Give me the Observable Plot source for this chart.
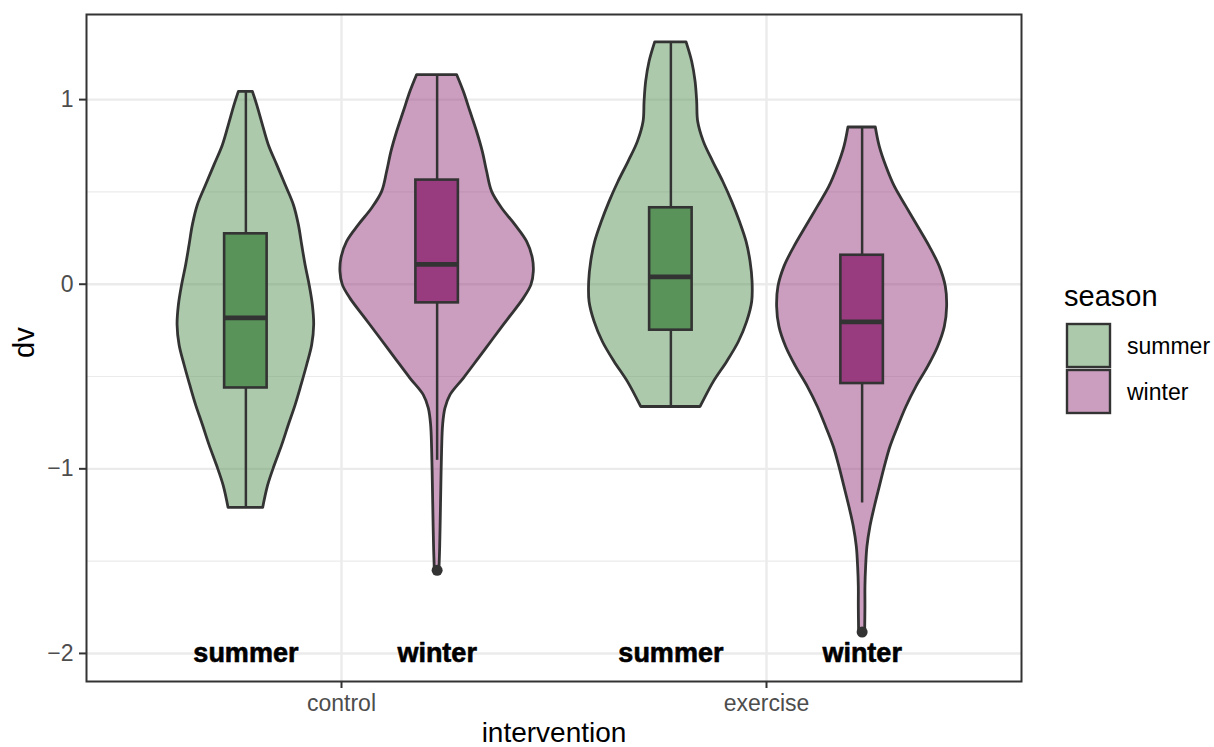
<!DOCTYPE html>
<html>
<head>
<meta charset="utf-8">
<script src="https://cdn.jsdelivr.net/npm/d3@7"></script>
<script src="https://cdn.jsdelivr.net/npm/@observablehq/plot@0.6"></script>
<style>
  body { margin: 0; background: #fff; font-family: "Liberation Sans", Arial, sans-serif; }
  #wrap { position: relative; width: 1214px; height: 747px; }
  #legend { position: absolute; left: 0; top: 0; }
</style>
</head>
<body>
<div id="wrap"></div>
<script>
// Categories
const interventions = ["control", "exercise"];
const seasons = ["summer", "winter"];
const seasonColors = ["#59935A", "#983C7F"];

// Violin outlines per group: [dv, half-width in intervention units]
const controlSummer = [
  [1.042, 0.0165], [0.970, 0.0266], [0.862, 0.040], [0.753, 0.054], [0.645, 0.0737],
  [0.537, 0.0934], [0.428, 0.113], [0.320, 0.1247], [0.211, 0.1325], [0.103, 0.1405],
  [-0.005, 0.150], [-0.114, 0.1576], [-0.222, 0.1607], [-0.331, 0.156], [-0.439, 0.1442],
  [-0.547, 0.131], [-0.656, 0.117], [-0.764, 0.101], [-0.873, 0.0854], [-0.981, 0.0682],
  [-1.090, 0.0525], [-1.212, 0.0407]
];
const controlWinter = [
  [1.133, 0.047], [1.042, 0.0628], [0.934, 0.0784], [0.826, 0.094], [0.717, 0.1075],
  [0.609, 0.1176], [0.500, 0.1294], [0.410, 0.153], [0.320, 0.1842], [0.229, 0.2118],
  [0.139, 0.2252], [0.067, 0.2275], [-0.005, 0.2219], [-0.078, 0.204], [-0.186, 0.1687],
  [-0.294, 0.1334], [-0.403, 0.0981], [-0.511, 0.0628], [-0.602, 0.0313], [-0.674, 0.0195],
  [-0.764, 0.0141], [-0.891, 0.0118], [-1.071, 0.0101], [-1.252, 0.0087], [-1.433, 0.0071],
  [-1.550, 0.0054]
];
const exerciseSummer = [
  [1.310, 0.0369], [1.205, 0.0501], [1.097, 0.0581], [0.988, 0.0619], [0.880, 0.0642],
  [0.771, 0.0776], [0.663, 0.0995], [0.555, 0.1231], [0.446, 0.1442], [0.338, 0.1624],
  [0.229, 0.1781], [0.121, 0.1875], [0.013, 0.1922], [-0.096, 0.1913], [-0.204, 0.1795],
  [-0.313, 0.160], [-0.421, 0.1325], [-0.529, 0.1012], [-0.665, 0.0699]
];
const exerciseWinter = [
  [0.849, 0.0322], [0.744, 0.0416], [0.636, 0.0572], [0.528, 0.0769], [0.419, 0.1042],
  [0.311, 0.1318], [0.202, 0.1593], [0.094, 0.1828], [-0.014, 0.1969], [-0.123, 0.200],
  [-0.231, 0.1946], [-0.340, 0.1788], [-0.448, 0.1553], [-0.556, 0.1278], [-0.665, 0.1042],
  [-0.773, 0.0847], [-0.882, 0.0666], [-0.990, 0.0534], [-1.098, 0.0416], [-1.207, 0.0299],
  [-1.315, 0.0195], [-1.423, 0.0125], [-1.532, 0.0094], [-1.640, 0.0078], [-1.749, 0.0078],
  [-1.884, 0.0071]
];

// Box-plot summaries, in group order: control/summer, control/winter, exercise/summer, exercise/winter
const groupIntervention = ["control", "control", "exercise", "exercise"];
const groupSeason = ["summer", "winter", "summer", "winter"];
const whiskerLow = [-1.212, -0.954, -0.665, -1.185];
const q1 = [-0.562, -0.101, -0.249, -0.538];
const medians = [-0.182, 0.108, 0.040, -0.204];
const q3 = [0.273, 0.564, 0.414, 0.157];
const whiskerHigh = [1.042, 1.133, 1.310, 0.849];
const outlierGroup = [1, 3];
const outlierValue = [-1.550, -1.884];

// Axis ticks
const yTicks = [-2, -1, 0, 1];
const yMinor = [-1.5, -0.5, 0.5];

const outlines = [controlSummer, controlWinter, exerciseSummer, exerciseWinter];
const dodge = 0.225;   // half of the 0.9 dodge width
const boxHalf = 0.05;  // half of the box width

const groups = groupIntervention.map((iv, i) => ({
  intervention: iv,
  season: groupSeason[i],
  pos: interventions.indexOf(iv) + 1 + (groupSeason[i] === "summer" ? -dodge : dodge),
  color: seasonColors[seasons.indexOf(groupSeason[i])],
  lo: whiskerLow[i], q1: q1[i], med: medians[i], q3: q3[i], hi: whiskerHigh[i],
  outline: outlines[i]
}));
const outliers = outlierGroup.map((g, i) => ({pos: groups[g].pos, dv: outlierValue[i]}));

const ink = "#333333";
const minus = d => d < 0 ? "\u2212" + Math.abs(d) : String(d);

const violinMarks = groups.map(g => Plot.areaX(g.outline, {
  y: d => d[0],
  x1: d => g.pos - d[1],
  x2: d => g.pos + d[1],
  fill: g.color,
  fillOpacity: 0.5,
  stroke: ink,
  strokeWidth: 2.8,
  curve: "catmull-rom"
}));

const chart = Plot.plot({
  width: 1214,
  height: 747,
  marginLeft: 86,
  marginRight: 193,
  marginTop: 14,
  marginBottom: 66,
  style: {fontFamily: "'Liberation Sans', Arial, sans-serif", background: "white"},
  x: {type: "linear", domain: [0.4, 2.6]},
  y: {domain: [-2.152, 1.461]},
  marks: [
    // panel grid
    Plot.ruleY(yMinor, {stroke: "#EBEBEB", strokeWidth: 1.2}),
    Plot.ruleY(yTicks, {stroke: "#EBEBEB", strokeWidth: 2.4}),
    Plot.ruleX([1, 2], {stroke: "#EBEBEB", strokeWidth: 2.4}),
    // violins
    ...violinMarks,
    // box plots
    Plot.ruleX(groups, {x: "pos", y1: "q3", y2: "hi", stroke: ink, strokeWidth: 2.5}),
    Plot.ruleX(groups, {x: "pos", y1: "lo", y2: "q1", stroke: ink, strokeWidth: 2.5}),
    Plot.rect(groups, {x1: d => d.pos - boxHalf, x2: d => d.pos + boxHalf, y1: "q1", y2: "q3",
      fill: "color", stroke: ink, strokeWidth: 2.6}),
    Plot.ruleY(groups, {y: "med", x1: d => d.pos - boxHalf, x2: d => d.pos + boxHalf,
      stroke: ink, strokeWidth: 4.8}),
    Plot.dot(outliers, {x: "pos", y: "dv", r: 5.5, fill: ink, stroke: "none"}),
    // group labels
    Plot.text(groups, {x: "pos", y: () => -2, text: "season", fontWeight: "bold",
      fontSize: 27, fill: "black", stroke: "black", strokeWidth: 0.6}),
    // panel border
    Plot.frame({stroke: ink, strokeWidth: 2}),
    // axes
    Plot.axisY({ticks: yTicks, tickFormat: minus, tickSize: 7, tickPadding: 6,
      fontSize: 23, stroke: ink, fill: "#4D4D4D", strokeWidth: 2, label: null}),
    Plot.axisX({ticks: [1, 2], tickFormat: d => interventions[d - 1], tickSize: 7, tickPadding: 6,
      fontSize: 23, stroke: ink, fill: "#4D4D4D", strokeWidth: 2, label: null}),
    // axis titles
    Plot.text(["dv"], {frameAnchor: "left", dx: -62, dy: 10, rotate: -90, fontSize: 29, fill: "black"}),
    Plot.text(["intervention"], {frameAnchor: "bottom", dy: 60, fontSize: 28, fill: "black"})
  ]
});

const wrap = document.getElementById("wrap");
wrap.appendChild(chart);

// Legend for season fill
const legend = d3.select(wrap).append("svg")
  .attr("id", "legend")
  .attr("width", 1214).attr("height", 747)
  .style("pointer-events", "none")
  .style("font-family", "'Liberation Sans', Arial, sans-serif");
legend.append("text")
  .attr("x", 1064).attr("y", 296).attr("dy", "0.35em")
  .attr("font-size", 29).attr("fill", "black")
  .text("season");
const keys = legend.selectAll("g.key").data(seasons).join("g")
  .attr("class", "key")
  .attr("transform", (d, i) => `translate(1067, ${324 + i * 46})`);
keys.append("rect")
  .attr("width", 43).attr("height", 43)
  .attr("fill", (d, i) => seasonColors[i]).attr("fill-opacity", 0.5)
  .attr("stroke", ink).attr("stroke-width", 2.4);
keys.append("text")
  .attr("x", 60).attr("y", 21.5).attr("dy", "0.35em")
  .attr("font-size", 23).attr("fill", "black")
  .text(d => d);
</script>
</body>
</html>
